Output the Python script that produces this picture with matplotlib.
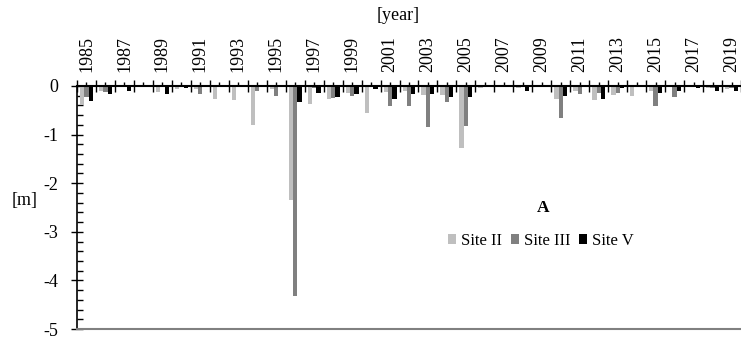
import numpy as np
import matplotlib
matplotlib.use("Agg")
import matplotlib.pyplot as plt
from matplotlib.ticker import MultipleLocator, FixedLocator

plt.rcParams['font.family'] = ['Liberation Serif', 'DejaVu Serif']
plt.rcParams['font.size'] = 13

years = list(range(1985, 2020))
year_labels = [str(y) if (y - 1985) % 2 == 0 else "" for y in years]

# water level change per year [m]
site_II = [-0.40, -0.11, -0.02, -0.02, -0.12, -0.07, -0.06, -0.26, -0.28, -0.80,
           -0.06, -2.34, -0.37, -0.27, -0.14, -0.55, -0.12, -0.10, -0.19, -0.18,
           -1.28, -0.04, 0.00, -0.05, -0.01, -0.27, -0.10, -0.29, -0.18, -0.20,
           -0.11, -0.03, -0.02, -0.04, -0.07]
site_III = [-0.22, -0.12, -0.03, -0.01, -0.03, -0.02, -0.17, -0.02, -0.02, -0.11,
            -0.21, -4.33, -0.05, -0.25, -0.20, -0.02, -0.42, -0.41, -0.84, -0.32,
            -0.82, -0.03, 0.00, -0.02, -0.02, -0.65, -0.16, -0.14, -0.14, -0.03,
            -0.42, -0.23, -0.02, -0.05, -0.04]
site_V = [-0.30, -0.16, -0.11, -0.02, -0.17, -0.05, -0.02, -0.01, -0.01, -0.01,
          -0.01, -0.33, -0.14, -0.23, -0.17, -0.06, -0.26, -0.17, -0.17, -0.23,
          -0.22, -0.01, 0.00, -0.10, -0.01, -0.21, -0.03, -0.27, -0.04, -0.02,
          -0.14, -0.10, -0.05, -0.10, -0.11]

series = [("Site II", site_II, "#bfbfbf"),
          ("Site III", site_III, "#808080"),
          ("Site V", site_V, "#000000")]

fig = plt.figure(figsize=(7.41, 3.42), dpi=100)
ax = fig.add_axes([77/741, 1 - 329/342, 664/741, 243/342])

x = np.arange(len(years))
w = 0.228
for i, (name, vals, col) in enumerate(series):
    ax.bar(x + (i - 1) * w, vals, width=w, color=col, label=name, zorder=2)

ax.set_xlim(-0.5, len(years) - 0.5)
ax.set_ylim(-5, 0)

# year axis on top (at 0 m)
ax.xaxis.tick_top()
ax.set_xticks(x)
ax.set_xticklabels(year_labels, rotation=90)
ax.xaxis.set_minor_locator(FixedLocator(np.arange(len(years) + 1) - 0.5))
ax.tick_params(axis='x', which='major', direction='out', length=3, width=1, pad=7)
ax.tick_params(axis='x', which='minor', direction='inout', length=8, width=1, top=True, bottom=False)

ax.yaxis.set_major_locator(MultipleLocator(1))
ax.yaxis.set_minor_locator(MultipleLocator(0.2))
ax.set_yticks(np.arange(0, -6, -1))
ax.set_yticklabels([str(v) for v in range(0, -6, -1)])
ax.tick_params(axis='y', which='major', direction='inout', length=9, width=1, pad=9)
ax.tick_params(axis='y', which='minor', direction='in', length=4.5, width=1)

ax.spines['right'].set_visible(False)
ax.spines['top'].set_linewidth(1.5)
ax.spines['left'].set_linewidth(1.2)
ax.spines['bottom'].set_color('#808080')
ax.spines['bottom'].set_linewidth(1.5)

fig.text(398/741, 1 - 16/342, "[year]", ha='center', va='center')
fig.text(25/741, 1 - 200/342, "[m]", ha='center', va='center')
fig.text(543/741, 1 - 208/342, "A", ha='center', va='center', fontweight='bold', fontsize=12.5)

ax.legend(loc='center', bbox_to_anchor=(541/741, 1 - 241/342), bbox_transform=fig.transFigure,
          ncol=3, frameon=False, handlelength=0.5, handleheight=0.5, handletextpad=0.3,
          columnspacing=0.5, fontsize=12)

fig.savefig("out.png", dpi=100)
